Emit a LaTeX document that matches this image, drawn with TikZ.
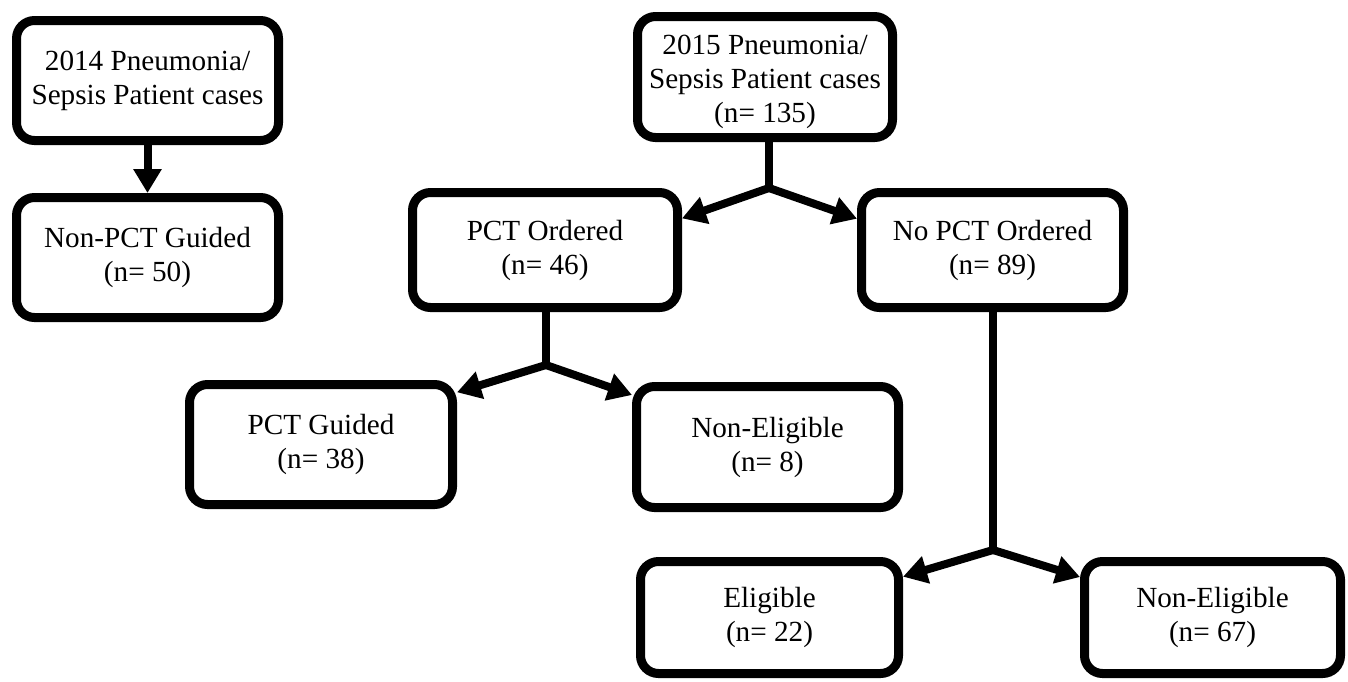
\documentclass[tikz,border=0pt]{standalone}
\usepackage{fontspec}
\setmainfont{Liberation Serif}
\usetikzlibrary{arrows.meta}

\begin{document}
\begin{tikzpicture}[x=0.5pt, y=-0.5pt,
    every node/.style={align=center, font=\fontsize{14.6}{17}\selectfont},
    box/.style={rectangle, rounded corners=9pt, draw, line width=4.5pt, inner sep=0pt,
                minimum width=131pt, minimum height=60pt},
    link/.style={line width=4pt},
    arrow/.style={link, -{Triangle[length=12pt, width=13.5pt]}}
]
\useasboundingbox (0,0) rectangle (1348,681);

% 2014 cohort
\node[box] (pat14) at (147.5,80.5) {2014 Pneumonia/\\Sepsis Patient cases};
\node[box] (nonpct) at (147.5,257.5) {Non-PCT Guided\\(n= 50)};

% 2015 cohort
\node[box, minimum width=127.5pt, minimum height=60.5pt] (pat15) at (765,77) {\rule{0pt}{14.5pt}2015 Pneumonia/\\Sepsis Patient cases\\(n= 135)};
\node[box, minimum width=132.5pt, minimum height=57.5pt] (ordered) at (545,250) {PCT Ordered\\(n= 46)};
\node[box, minimum width=131pt, minimum height=57.5pt] (noorder) at (992.5,250) {No PCT Ordered\\(n= 89)};
\node[box, minimum width=131.5pt] (guided) at (321,444.5) {PCT Guided\\(n= 38)};
\node[box, minimum width=131pt, minimum height=60.5pt] (nonelig8) at (767.5,447) {Non-Eligible\\(n= 8)};
\node[box, minimum width=129pt, minimum height=56pt] (elig) at (769.5,617.5) {Eligible\\(n= 22)};
\node[box, minimum width=128pt, minimum height=56pt] (nonelig67) at (1212.5,617.5) {Non-Eligible\\(n= 67)};

\coordinate (split15) at (769,188);
\coordinate (splitord) at (546,365);
\coordinate (splitno) at (993,550);

\draw[arrow] (pat14) -- (nonpct);

\draw[link] (pat15.south -| split15) -- (split15);
\draw[arrow] (split15) -- (ordered.13);
\draw[arrow] (split15) -- (noorder.167);

\draw[link] (ordered.south -| splitord) -- (splitord);
\draw[arrow] (splitord) -- (guided.21);
\draw[arrow] (splitord) -- (nonelig8.159);

\draw[link] (noorder.south -| splitno) -- (splitno);
\draw[arrow] (splitno) -- (elig.17);
\draw[arrow] (splitno) -- (nonelig67.163);
\end{tikzpicture}
\end{document}
